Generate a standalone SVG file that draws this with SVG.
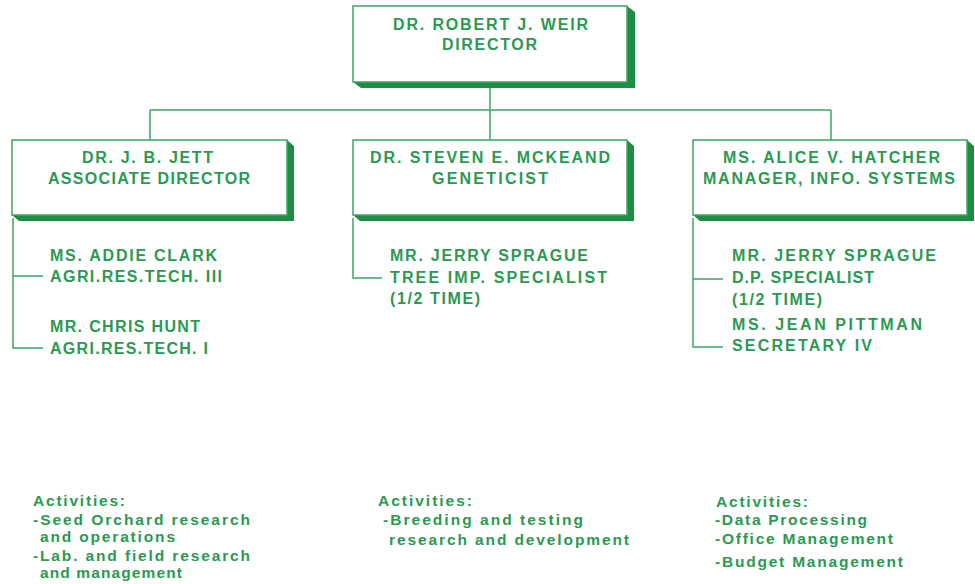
<svg xmlns="http://www.w3.org/2000/svg" width="975" height="584" viewBox="0 0 975 584">
<style>
text{font-family:"Liberation Sans",Arial,sans-serif;font-weight:bold;fill:#2a9a52;font-size:16px}
.act{font-size:15.5px}
.box{fill:#fff;stroke:#3fa564;stroke-width:1.5}
.sh{fill:#1f8c46}
.ln{fill:none;stroke:#3fa564;stroke-width:1.5}
</style>
<rect width="975" height="584" fill="#fff"/>
<g id="connectors">
<path class="ln" d="M490 86V110M150 110H831M150 110V140M490 110V140M831 110V140"/>
<path class="ln" d="M13 218V348H43M13 276H43"/>
<path class="ln" d="M353 218V278H382"/>
<path class="ln" d="M693 218V347H723M693 279H723"/>
</g>
<g id="director">
<polygon class="sh" points="353,82 361,88 635,88 635,12 627,6 627,82"/>
<rect class="box" x="353" y="6" width="274" height="76"/>
<text x="393" y="30" textLength="195" lengthAdjust="spacing">DR. ROBERT J. WEIR</text>
<text x="442" y="50" textLength="95" lengthAdjust="spacing">DIRECTOR</text>
</g>
<g id="jett">
<polygon class="sh" points="12,215 19,221 294,221 294,146 287,140 287,215"/>
<rect class="box" x="12" y="140" width="275" height="75"/>
<text x="82" y="163" textLength="131" lengthAdjust="spacing">DR. J. B. JETT</text>
<text x="48" y="184" textLength="202" lengthAdjust="spacing">ASSOCIATE DIRECTOR</text>
</g>
<g id="mckeand">
<polygon class="sh" points="353,215 360,221 634,221 634,146 627,140 627,215"/>
<rect class="box" x="353" y="140" width="274" height="75"/>
<text x="370" y="163" textLength="240" lengthAdjust="spacing">DR. STEVEN E. MCKEAND</text>
<text x="432" y="184" textLength="116" lengthAdjust="spacing">GENETICIST</text>
</g>
<g id="hatcher">
<polygon class="sh" points="693,215 700,221 974,221 974,146 967,140 967,215"/>
<rect class="box" x="693" y="140" width="274" height="75"/>
<text x="723" y="163" textLength="217" lengthAdjust="spacing">MS. ALICE V. HATCHER</text>
<text x="703" y="184" textLength="252" lengthAdjust="spacing">MANAGER, INFO. SYSTEMS</text>
</g>
<g id="clark">
<text x="50" y="261" textLength="167" lengthAdjust="spacing">MS. ADDIE CLARK</text>
<text x="50" y="282" textLength="172" lengthAdjust="spacing">AGRI.RES.TECH. III</text>
</g>
<g id="hunt">
<text x="50" y="332" textLength="150" lengthAdjust="spacing">MR. CHRIS HUNT</text>
<text x="50" y="354" textLength="158" lengthAdjust="spacing">AGRI.RES.TECH. I</text>
</g>
<g id="sprague1">
<text x="390" y="261" textLength="198" lengthAdjust="spacing">MR. JERRY SPRAGUE</text>
<text x="390" y="283" textLength="217" lengthAdjust="spacing">TREE IMP. SPECIALIST</text>
<text x="390" y="304" textLength="90" lengthAdjust="spacing">(1/2 TIME)</text>
</g>
<g id="sprague2">
<text x="732" y="261" textLength="204" lengthAdjust="spacing">MR. JERRY SPRAGUE</text>
<text x="732" y="283" textLength="142" lengthAdjust="spacing">D.P. SPECIALIST</text>
<text x="732" y="305" textLength="90" lengthAdjust="spacing">(1/2 TIME)</text>
</g>
<g id="pittman">
<text x="732" y="330" textLength="190" lengthAdjust="spacing">MS. JEAN PITTMAN</text>
<text x="732" y="351" textLength="140" lengthAdjust="spacing">SECRETARY IV</text>
</g>
<g id="activities-left">
<text class="act" x="33" y="506" textLength="92" lengthAdjust="spacing">Activities:</text>
<text class="act" x="33" y="525" textLength="217" lengthAdjust="spacing">-Seed Orchard research</text>
<text class="act" x="40" y="542" textLength="135" lengthAdjust="spacing">and operations</text>
<text class="act" x="33" y="561" textLength="217" lengthAdjust="spacing">-Lab. and field research</text>
<text class="act" x="40" y="578" textLength="142" lengthAdjust="spacing">and management</text>
</g>
<g id="activities-middle">
<text class="act" x="378" y="506" textLength="94" lengthAdjust="spacing">Activities:</text>
<text class="act" x="383" y="525" textLength="200" lengthAdjust="spacing">-Breeding and testing</text>
<text class="act" x="389" y="545" textLength="240" lengthAdjust="spacing">research and development</text>
</g>
<g id="activities-right">
<text class="act" x="716" y="507" textLength="92" lengthAdjust="spacing">Activities:</text>
<text class="act" x="715" y="525" textLength="152" lengthAdjust="spacing">-Data Processing</text>
<text class="act" x="715" y="544" textLength="178" lengthAdjust="spacing">-Office Management</text>
<text class="act" x="715" y="567" textLength="188" lengthAdjust="spacing">-Budget Management</text>
</g>
</svg>
